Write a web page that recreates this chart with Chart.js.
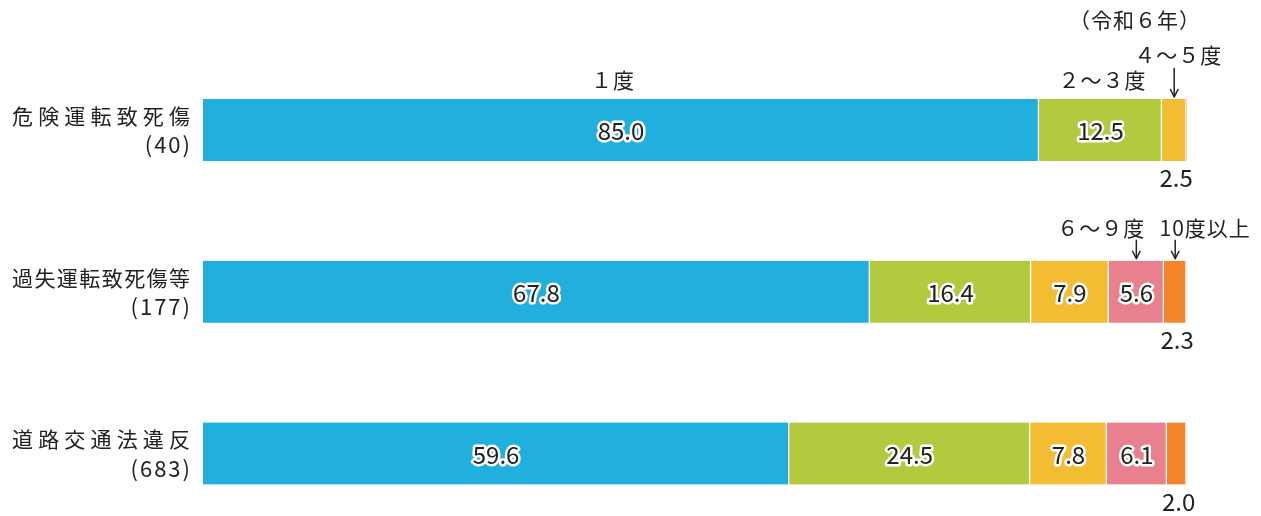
<!DOCTYPE html>
<html>
<head>
<meta charset="utf-8">
<script src="https://cdn.jsdelivr.net/npm/chart.js@4"></script>
<style>
  html, body { margin: 0; padding: 0; background: #fff; }
  #wrap { width: 1261px; height: 516px; position: relative; }
</style>
</head>
<body>
<div id="wrap"><canvas id="chart"></canvas></div>
<script>
// categories (label, count)
const categories = ['危険運転致死傷', '過失運転致死傷等', '道路交通法違反'];
const counts = ['(40)', '(177)', '(683)'];

// series: share (%) by number of prior offences
const seriesNames = ['１度', '２～３度', '４～５度', '６～９度', '10度以上'];
const deg1 = [85.0, 67.8, 59.6];
const deg2to3 = [12.5, 16.4, 24.5];
const deg4to5 = [2.5, 7.9, 7.8];
const deg6to9 = [0, 5.6, 6.1];
const deg10up = [0, 2.3, 2.0];

const yearNote = '（令和６年）';

const colors = ['#21b0de', '#b3ca3f', '#f3bd33', '#e8818d', '#f3842a'];
const FONT = '"Noto Sans CJK JP", "Noto Sans", sans-serif';
const TEXT = '#222';

const seriesData = [deg1, deg2to3, deg4to5, deg6to9, deg10up];

// where the series-name labels sit (row they belong to, offsets from the segment)
const nameSpots = [
    { row: 0, dx: -8, textUp: 19 },
    { row: 0, dx: 2, textUp: 19 },
    { row: 0, dx: 4, textUp: 44, arrowFrom: 31 },
    { row: 1, dx: -35, textUp: 33, arrowFrom: 21 },
    { row: 1, dx: 30, textUp: 33, arrowFrom: 21 }
];

const segCenter = (chart, ds, row) => {
    let start = 0;
    for (let i = 0; i < ds; i++) start += seriesData[i][row];
    const x = chart.scales.x;
    return (x.getPixelForValue(start) + x.getPixelForValue(start + seriesData[ds][row])) / 2;
};

const annotate = {
    id: 'annotate',
    afterDatasetsDraw(chart) {
        const ctx = chart.ctx;
        const y = chart.scales.y;
        const half = 31;
        ctx.save();

        // category labels
        ctx.textAlign = 'right';
        ctx.textBaseline = 'middle';
        ctx.fillStyle = TEXT;
        categories.forEach((c, i) => {
            const cy = y.getPixelForValue(i);
            ctx.font = '21px ' + FONT;
            ctx.letterSpacing = '0px';
            const w = ctx.measureText(c).width;
            const sp = (178 - w) / (c.length - 1);
            ctx.letterSpacing = sp + 'px';
            ctx.fillText(c, 190 + sp, cy - 14);
            ctx.font = '22px ' + FONT;
            ctx.letterSpacing = '2px';
            ctx.fillText(counts[i], 192, cy + 15);
        });
        ctx.letterSpacing = '0px';

        // values
        ctx.textAlign = 'center';
        seriesData.forEach((arr, ds) => {
            arr.forEach((v, row) => {
                if (!v) return;
                const cx = segCenter(chart, ds, row);
                const cy = y.getPixelForValue(row);
                const txt = v.toFixed(1);
                if (v >= 4) {
                    ctx.font = '24px ' + FONT;
                    ctx.lineJoin = 'round';
                    ctx.lineWidth = 5;
                    ctx.strokeStyle = '#fff';
                    ctx.strokeText(txt, cx, cy + 1);
                    ctx.fillStyle = TEXT;
                    ctx.fillText(txt, cx, cy + 1);
                } else {
                    ctx.font = '24px ' + FONT;
                    ctx.fillStyle = TEXT;
                    ctx.fillText(txt, cx + 2, cy + half + 17);
                }
            });
        });

        // series names with arrows
        ctx.font = '21px ' + FONT;
        ctx.fillStyle = TEXT;
        ctx.strokeStyle = TEXT;
        ctx.lineWidth = 1.5;
        nameSpots.forEach((s, ds) => {
            const cx = segCenter(chart, ds, s.row);
            const top = y.getPixelForValue(s.row) - half;
            ctx.letterSpacing = '1px';
            ctx.fillText(seriesNames[ds], cx + s.dx, top - s.textUp);
            if (s.arrowFrom) {
                ctx.beginPath();
                ctx.moveTo(cx, top - s.arrowFrom);
                ctx.lineTo(cx, top - 3);
                ctx.stroke();
                ctx.beginPath();
                ctx.moveTo(cx - 4, top - 10);
                ctx.lineTo(cx, top - 2);
                ctx.lineTo(cx + 4, top - 10);
                ctx.stroke();
            }
        });

        ctx.letterSpacing = '1px';
        ctx.fillText(yearNote, 1135, 20);
        ctx.restore();
    }
};

new Chart(document.getElementById('chart'), {
    type: 'bar',
    data: {
        labels: categories,
        datasets: seriesData.map((d, i) => ({
            label: seriesNames[i],
            data: d,
            backgroundColor: colors[i],
            borderColor: 'rgba(255,255,255,0.85)',
            borderWidth: { left: 0, right: 1.5, top: 0, bottom: 0 },
            borderSkipped: false,
            barThickness: 62,
            clip: false
        }))
    },
    options: {
        indexAxis: 'y',
        responsive: true,
        maintainAspectRatio: false,
        animation: false,
        layout: {
            padding: { left: 203, right: 74.5, top: 130, bottom: 62.5 }
        },
        scales: {
            x: { stacked: true, min: 0, max: 100, display: false },
            y: { stacked: true, offset: false, display: false }
        },
        plugins: {
            legend: { display: false },
            tooltip: { enabled: false }
        }
    },
    plugins: [annotate]
});
</script>
</body>
</html>
